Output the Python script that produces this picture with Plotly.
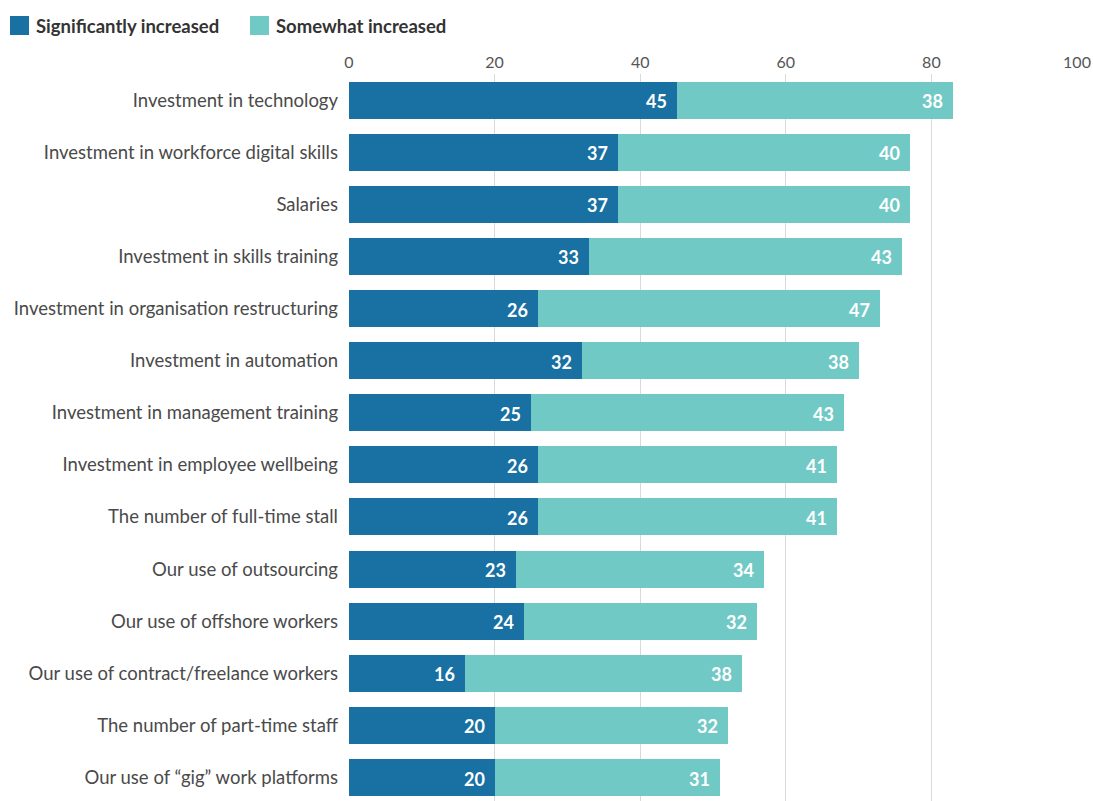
import plotly.graph_objects as go

categories = [
    "Investment in technology",
    "Investment in workforce digital skills",
    "Salaries",
    "Investment in skills training",
    "Investment in organisation restructuring",
    "Investment in automation",
    "Investment in management training",
    "Investment in employee wellbeing",
    "The number of full-time stall",
    "Our use of outsourcing",
    "Our use of offshore workers",
    "Our use of contract/freelance workers",
    "The number of part-time staff",
    "Our use of \u201cgig\u201d work platforms",
]
significantly = [45, 37, 37, 33, 26, 32, 25, 26, 26, 23, 24, 16, 20, 20]
somewhat = [38, 40, 40, 43, 47, 38, 43, 41, 41, 34, 32, 38, 32, 31]
x_ticks = [0, 20, 40, 60, 80, 100]

series_names = ["Significantly increased", "Somewhat increased"]
colors = ["#1870a3", "#71c9c6"]
FONT = "Lato"

fig = go.Figure()
for name, vals, col in zip(series_names, [significantly, somewhat], colors):
    fig.add_trace(go.Bar(
        name=name,
        y=categories,
        x=vals,
        orientation="h",
        marker=dict(color=col, line=dict(width=0)),
        showlegend=False,
    ))

# value labels at the right end of each segment
for i, cat in enumerate(categories):
    ends = [significantly[i], significantly[i] + somewhat[i]]
    for v, e in zip([significantly[i], somewhat[i]], ends):
        fig.add_annotation(
            x=e, y=cat, text=f"<b>{v}</b>", showarrow=False,
            xanchor="right", xshift=-8, yshift=-1,
            font=dict(family=FONT, size=18, color="white"),
        )

# legend drawn as swatches with labels
legend_items = [(10, series_names[0], colors[0]), (250, series_names[1], colors[1])]
for x0, label, col in legend_items:
    fig.add_shape(type="rect", xref="paper", yref="paper",
                  x0=(x0 - 349) / 728, x1=(x0 + 19 - 349) / 728,
                  y0=1 + (74 - 35) / 727, y1=1 + (74 - 16) / 727,
                  fillcolor=col, line=dict(width=0))
    fig.add_annotation(
        xref="paper", yref="paper",
        x=(x0 + 24 - 349) / 728, y=1 + (74 - 26) / 727,
        text=f"<b>{label}</b>", showarrow=False,
        xanchor="left", yanchor="middle",
        font=dict(family=FONT, size=18.5, color="#333333"),
    )

fig.update_layout(
    barmode="stack",
    bargap=0.29,
    width=1093,
    height=801,
    margin=dict(l=349, r=16, t=74, b=0),
    paper_bgcolor="white",
    plot_bgcolor="white",
    font=dict(family=FONT, color="#444444"),
    xaxis=dict(
        side="top",
        range=[0, 100],
        tickvals=x_ticks,
        ticktext=[str(t) for t in x_ticks],
        showgrid=True,
        gridcolor="#d9d9d9",
        gridwidth=1,
        zeroline=False,
        showline=False,
        tickfont=dict(family=FONT, size=16, color="#555555"),
        ticklabelstandoff=2,
    ),
    yaxis=dict(
        autorange=False,
        range=[13.45, -0.5],
        categoryorder="array",
        categoryarray=categories,
        showgrid=False,
        zeroline=False,
        showline=False,
        tickfont=dict(family=FONT, size=18.5, color="#4a4a4a"),
        ticklabelstandoff=10,
    ),
)

fig.write_html("out.html")
